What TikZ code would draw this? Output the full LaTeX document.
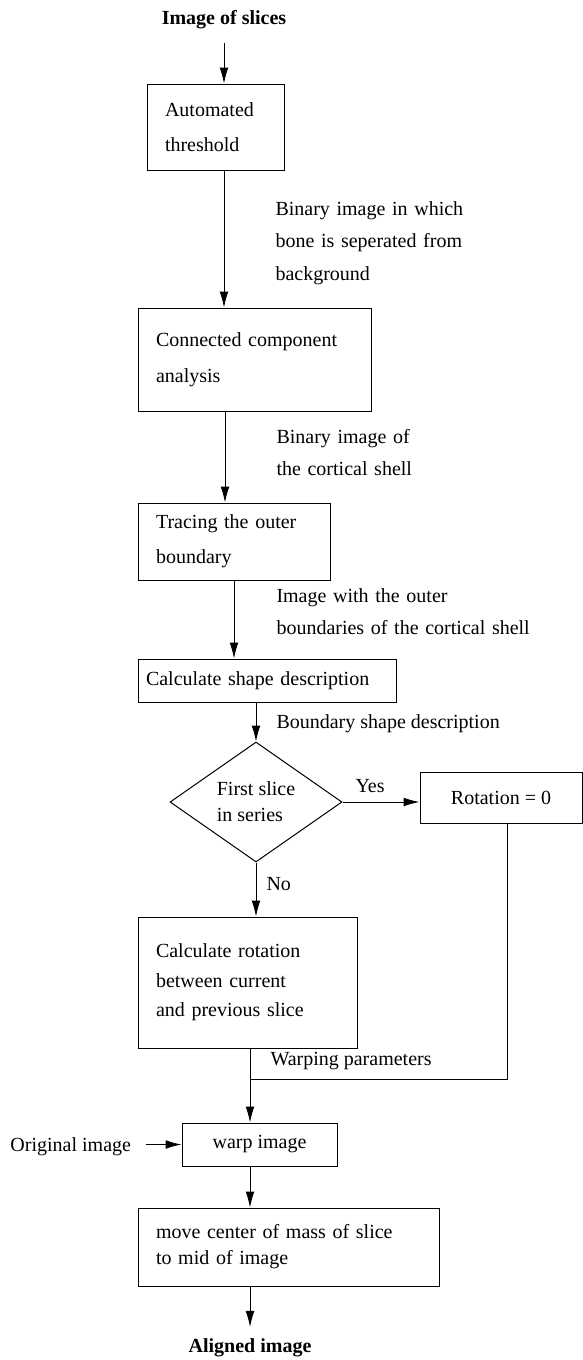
\documentclass[tikz,border=0pt]{standalone}
\usepackage{fontspec}
\setmainfont{Liberation Serif}
\usetikzlibrary{arrows.meta,shapes.geometric}

\begin{document}
\begin{tikzpicture}[x=0.5pt,y=-0.5pt,->,>={Latex[length=8pt,width=4.4pt]},line width=0.5pt,
  main node/.style={rectangle,draw,align=left,inner xsep=9pt,inner ysep=0pt},
  label node/.style={anchor=base west,inner sep=0pt,align=left}]
  \useasboundingbox (0,0) rectangle (583,1360);

  \node[font=\bfseries] (0) at (224,25) [anchor=base] {Image of slices};
  \node[main node,text width=50.5pt,minimum height=43pt,font=\fontsize{10}{17.5}\selectfont] (1) at (215.5,127) {Automated\\threshold};
  \node[main node,text width=98.5pt,minimum height=51.5pt,font=\fontsize{10}{18}\selectfont] (2) at (254.5,359.5) {Connected component\\analysis};
  \node[main node,text width=78pt,minimum height=38.5pt,font=\fontsize{10}{17.5}\selectfont] (3) at (234,541.5) {Tracing the outer\\boundary};
  \node[main node,inner xsep=4pt,text width=121pt,minimum height=21.5pt] (4) at (267,680.5) {Calculate shape description};
  \node[diamond,draw,aspect=1.43,inner sep=0pt,minimum width=86pt,minimum height=60pt,align=left,font=\fontsize{10}{13}\selectfont] (5) at (256,802) {First slice\\in series};
  \node[draw,minimum width=81pt,minimum height=25.5pt] (6) at (501,797.5) {Rotation = 0};
  \node[main node,text width=91.5pt,minimum height=65.5pt,font=\fontsize{10}{14.75}\selectfont] (7) at (247.5,982.5) {Calculate rotation\\between current\\and previous slice};
  \node[draw,minimum width=77.5pt,minimum height=21.5pt] (8) at (259.5,1144.5) {warp image};
  \node[main node,text width=132.5pt,minimum height=39pt,font=\fontsize{10}{13}\selectfont] (9) at (288.5,1247) {move center of mass of slice\\to mid of image};
  \node[font=\bfseries,anchor=base] (10) at (250,1352) {Aligned image};
  \node[label node] (11) at (10,1151) {Original image};

  % edge labels
  \node[label node,text width=140pt,font=\fontsize{10}{16.3}\selectfont] (l1) at (275,215) {Binary image in which\\bone is seperated from\\background};
  \node[label node,text width=140pt,font=\fontsize{10}{16}\selectfont] (l2) at (276,443) {Binary image of\\the cortical shell};
  \node[label node,text width=150pt,font=\fontsize{10}{16}\selectfont] (l3) at (276,602) {Image with the outer\\boundaries of the cortical shell};
  \node[label node] (l4) at (276,728) {Boundary shape description};
  \node[label node] (yes) at (355,792) {Yes};
  \node[label node] (no) at (266,890) {No};
  \node[label node] (l5) at (270,1065) {Warping parameters};

  \coordinate (a) at (224,0);
  \coordinate (b) at (225,0);
  \coordinate (r) at (507,0);
  \coordinate (j) at (250,1079);

  \draw[shorten <=3pt] (0.south) -- (1.north -| 0.south);
  \draw (1.south -| a) -- (2.north -| a);
  \draw (2.south -| b) -- (3.north -| b);
  \draw (3.south) -- (3.south |- 4.north);
  \draw (4.south -| 5.north) -- (5.north);
  \draw (5.east) -- (5.east -| 6.west);
  \draw (5.south) -- (5.south |- 7.north);
  \draw[-] (7.south -| j) -- (j);
  \draw[-] (6.south -| r) |- (j);
  \draw (j) -- (j |- 8.north);
  \draw[shorten <=7pt] (8.west -| 11.east) -- (8.west);
  \draw (8.south -| j) -- (9.north -| j);
  \draw[shorten >=2pt] (9.south -| j) -- (10.north -| j);

\end{tikzpicture}
\end{document}
